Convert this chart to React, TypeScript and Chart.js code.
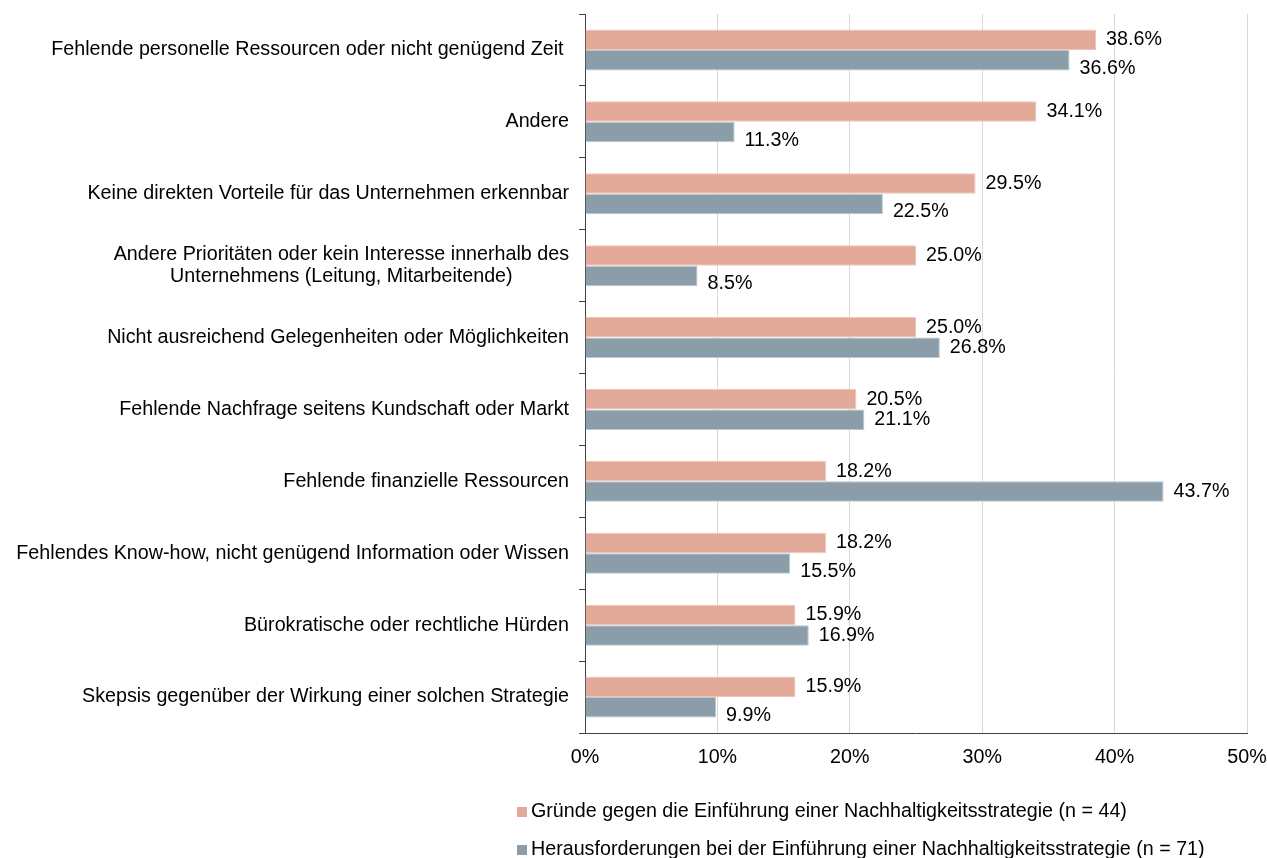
import React, { useEffect, useRef } from "react";
import { Chart, registerables } from "chart.js";

Chart.register(...registerables);

const categories: (string | string[])[] = [
  "Fehlende personelle Ressourcen oder nicht genügend Zeit ",
  "Andere",
  "Keine direkten Vorteile für das Unternehmen erkennbar",
  ["Andere Prioritäten oder kein Interesse innerhalb des", "Unternehmens (Leitung, Mitarbeitende)"],
  "Nicht ausreichend Gelegenheiten oder Möglichkeiten",
  "Fehlende Nachfrage seitens Kundschaft oder Markt",
  "Fehlende finanzielle Ressourcen",
  "Fehlendes Know-how, nicht genügend Information oder Wissen",
  "Bürokratische oder rechtliche Hürden",
  "Skepsis gegenüber der Wirkung einer solchen Strategie",
];

const reasonsAgainst = [38.6, 34.1, 29.5, 25.0, 25.0, 20.5, 18.2, 18.2, 15.9, 15.9];
const challenges = [36.6, 11.3, 22.5, 8.5, 26.8, 21.1, 43.7, 15.5, 16.9, 9.9];

const seriesLabels = [
  "Gründe gegen die Einführung einer Nachhaltigkeitsstrategie (n = 44)",
  "Herausforderungen bei der Einführung einer Nachhaltigkeitsstrategie (n = 71)",
];

const xMin = 0;
const xMax = 50;
const xStep = 10;

const PINK = "#E2A999";
const BLUE = "#8A9DA8";
const FONT_FAMILY = "'Liberation Sans', Arial, sans-serif";
const FONT_SIZE = 19.7;

export default function App() {
  const ref = useRef<HTMLCanvasElement | null>(null);

  useEffect(() => {
    document.body.style.margin = "0";
    const canvas = ref.current;
    if (!canvas) return;

    const yLabelPlugin = {
      id: "yLabels",
      afterDraw(chart: any) {
        const ctx = chart.ctx;
        const y = chart.scales.y;
        ctx.save();
        ctx.font = `${FONT_SIZE}px ${FONT_FAMILY}`;
        ctx.fillStyle = "#000";
        ctx.textBaseline = "middle";
        ctx.textAlign = "center";
        const right = y.right - 16;
        const lh = 22;
        categories.forEach((lab, i) => {
          const lines = Array.isArray(lab) ? lab : [lab];
          const maxW = Math.max(...lines.map((l) => ctx.measureText(l).width));
          const cy = y.getPixelForValue(i);
          lines.forEach((l, j) => {
            ctx.fillText(l, right - maxW / 2, cy + (j - (lines.length - 1) / 2) * lh);
          });
        });
        ctx.restore();
      },
    };

    const valueLabelPlugin = {
      id: "valueLabels",
      afterDatasetsDraw(chart: any) {
        const ctx = chart.ctx;
        ctx.save();
        ctx.font = `${FONT_SIZE}px ${FONT_FAMILY}`;
        ctx.fillStyle = "#000";
        ctx.textBaseline = "middle";
        ctx.textAlign = "left";
        chart.data.datasets.forEach((ds: any, di: number) => {
          const meta = chart.getDatasetMeta(di);
          meta.data.forEach((el: any, i: number) => {
            const v = ds.data[i] as number;
            let nudge = 0;
            if (di === 1 && v < (chart.data.datasets[0].data[i] as number)) nudge = 8;
            ctx.fillText(v.toFixed(1) + "%", el.x + 10, el.y + nudge);
          });
        });
        ctx.restore();
      },
    };

    const legendPlugin = {
      id: "customLegend",
      afterDraw(chart: any) {
        const ctx = chart.ctx;
        ctx.save();
        ctx.font = `${FONT_SIZE}px ${FONT_FAMILY}`;
        ctx.textBaseline = "middle";
        ctx.textAlign = "left";
        const rows = [812, 850];
        chart.data.datasets.forEach((ds: any, di: number) => {
          const cy = rows[di];
          ctx.fillStyle = ds.backgroundColor;
          ctx.fillRect(517, cy - 5, 10, 10);
          ctx.fillStyle = "#000";
          ctx.fillText(ds.label, 531, cy);
        });
        ctx.restore();
      },
    };

    const chart = new Chart(canvas, {
      type: "bar",
      data: {
        labels: categories as any,
        datasets: [
          {
            label: seriesLabels[0],
            data: reasonsAgainst,
            backgroundColor: PINK,
            borderColor: "#EDC6BA",
            borderWidth: 1,
            categoryPercentage: 0.57,
            barPercentage: 1,
          },
          {
            label: seriesLabels[1],
            data: challenges,
            backgroundColor: BLUE,
            borderColor: "#BAC7CE",
            borderWidth: 1,
            categoryPercentage: 0.57,
            barPercentage: 1,
          },
        ],
      },
      options: {
        indexAxis: "y",
        animation: false,
        responsive: false,
        layout: { padding: { top: 14, right: 20, left: 0, bottom: 0 } },
        plugins: {
          legend: { display: false },
          tooltip: { enabled: false },
        },
        scales: {
          x: {
            min: xMin,
            max: xMax,
            ticks: {
              stepSize: xStep,
              callback: (v: any) => v + "%",
              color: "#000",
              font: { family: FONT_FAMILY, size: FONT_SIZE },
              padding: 13,
              maxRotation: 0,
            },
            grid: { color: "#D9D9D9", drawTicks: false, lineWidth: 1 },
            border: { color: "#404040", width: 1 },
            afterFit: (s: any) => {
              s.height = 125;
              s.paddingLeft = 0;
              s.paddingRight = 0;
            },
          },
          y: {
            ticks: { display: false },
            grid: {
              offset: true,
              drawOnChartArea: false,
              drawTicks: true,
              tickLength: 6,
              color: "#404040",
            },
            border: { color: "#404040", width: 1 },
            afterFit: (s: any) => {
              s.width = 585;
              s.paddingTop = 0;
              s.paddingBottom = 0;
            },
          },
        },
      },
      plugins: [yLabelPlugin, valueLabelPlugin, legendPlugin],
    } as any);

    return () => chart.destroy();
  }, []);

  return (
    <div style={{ width: 1267, height: 858 }}>
      <canvas ref={ref} width={1267} height={858} style={{ display: "block" }} />
    </div>
  );
}
